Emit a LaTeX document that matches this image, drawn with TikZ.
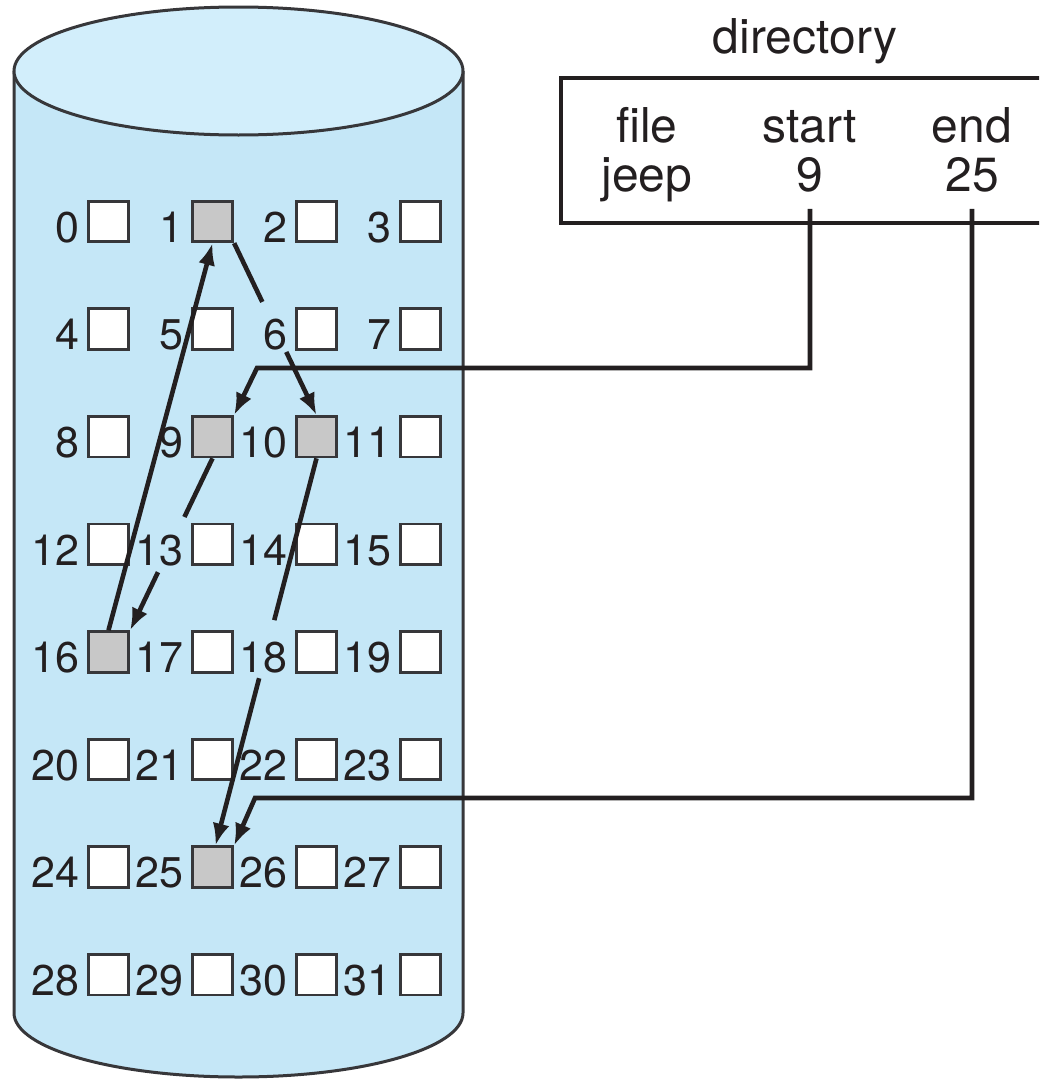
\documentclass[tikz,border=0pt]{standalone}
\usepackage{fontspec}
\setmainfont{TeX Gyre Heros}
\usetikzlibrary{arrows.meta,calc}
\definecolor{cylblue}{RGB}{197,231,247}
\definecolor{cyltop}{RGB}{210,238,251}
\definecolor{blkgray}{RGB}{200,200,200}
\definecolor{ink}{RGB}{35,31,32}
\definecolor{boxline}{RGB}{55,55,58}
\begin{document}
\begin{tikzpicture}[x=1pt,y=1pt,
  cylline/.style={draw=boxline, line width=3pt},
  blk/.style={draw=boxline, line width=2.8pt, fill=white, minimum size=40.5pt, inner sep=0pt},
  used/.style={blk, fill=blkgray},
  lbl/.style={font=\fontsize{43}{43}\selectfont, text=ink, inner sep=0pt},
  dirtext/.style={font=\fontsize{48}{48}\selectfont, text=ink, inner sep=0pt},
  seg/.style={draw=ink, line width=4.6pt},
  conn/.style={draw=ink, line width=4.6pt, -{Latex[length=22pt,width=17pt]}},
  dirbox/.style={draw=ink, line width=4.5pt, minimum width=499pt, minimum height=145pt, inner sep=0pt}]

\useasboundingbox (0,0) rectangle (1039,-1079);
\clip (0,0) rectangle (1039,-1079);

% cylinder
\fill[cylblue] (14,-71) -- (14,-1013) arc[start angle=180,end angle=360,x radius=224.5,y radius=64] -- (463,-71) -- cycle;
\draw[cylline] (14,-71) -- (14,-1013) arc[start angle=180,end angle=360,x radius=224.5,y radius=64] -- (463,-71);
\draw[cylline, fill=cyltop] (238.5,-71) ellipse[x radius=224.5, y radius=64];

% blocks
\foreach \n in {0,...,31} {
  \pgfmathtruncatemacro{\r}{\n/4}
  \pgfmathtruncatemacro{\c}{\n-4*\r}
  \pgfmathsetmacro{\cx}{108.5+104*\c}
  \pgfmathsetmacro{\cy}{-(221.5+107.6*\r)}
  \def\sty{blk}
  \ifnum\n=1 \def\sty{used}\fi
  \ifnum\n=9 \def\sty{used}\fi
  \ifnum\n=10 \def\sty{used}\fi
  \ifnum\n=16 \def\sty{used}\fi
  \ifnum\n=25 \def\sty{used}\fi
  \node[\sty] (b\n) at (\cx,\cy) {};
  \node[lbl, anchor=base east] (l\n) at (\cx-28.5,\cy-20.75) {\n};
}

% directory
\node[dirtext, anchor=base] (dirtitle) at (805,-53) {directory};
\node[dirbox] (dir) at (810.5,-150.5) {};
\node[dirtext, anchor=base] (hfile) at (647,-142) {file};
\node[dirtext, anchor=base] (hstart) at (810,-142) {start};
\node[dirtext, anchor=base] (hend) at (972,-142) {end};
\node[dirtext, anchor=base] (jeep) at (647,-191) {jeep};
\node[dirtext, anchor=base] (nine) at (810,-191) {9};
\node[dirtext, anchor=base] (tf) at (972,-191) {25};

\coordinate (c9) at (257,-368);
\coordinate (c25) at (255,-798);

% directory pointers
\draw[conn] ([yshift=-17pt]nine.south) |- (c9) -- (b9.north east);
\draw[conn] ([yshift=-17pt]tf.south) |- (c25) -- (b25.north east);

% chain 9 -> 16 -> 1 -> 10 -> 25
\draw[seg] (b9.south) -- ($(b9.south)!0.341!(b16.north east)$);
\draw[conn] ($(b9.south)!0.662!(b16.north east)$) -- (b16.north east);

\draw[conn] (b16.north) -- (b1.south);

\draw[seg] (b1.south east) -- ($(b1.south east)!0.342!(b10.north)$);
\draw[conn] ($(b1.south east)!0.633!(b10.north)$) -- (b10.north);

\draw[seg] (b10.south) -- ($(b10.south)!0.418!([xshift=3pt]b25.north)$);
\draw[conn] ($(b10.south)!0.568!([xshift=3pt]b25.north)$) -- ([xshift=3pt]b25.north);
\end{tikzpicture}
\end{document}
